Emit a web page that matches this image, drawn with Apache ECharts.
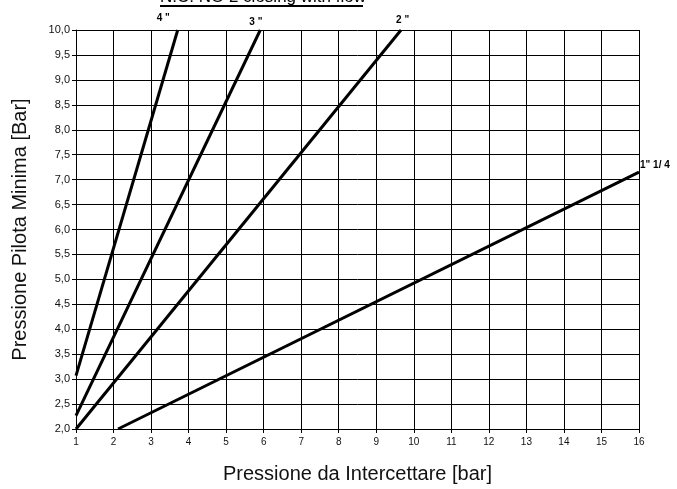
<!DOCTYPE html>
<html>
<head>
<meta charset="utf-8">
<script src="https://cdn.jsdelivr.net/npm/echarts@6/dist/echarts.min.js"></script>
<style>
  html, body { margin: 0; padding: 0; background: #fff; }
  #chart { width: 677px; height: 489px; }
</style>
</head>
<body>
<div id="chart"></div>
<script>
// diametri e punti delle rette
const sizes = ['4 "', '3 "', '2 "', '1" 1/ 4'];
const line4 = [[1, 3.07], [3.71, 10]];
const line3 = [[1, 2.27], [5.91, 10]];
const line2 = [[1, 2.0], [9.66, 10]];
const line114 = [[2.12, 2.0], [16, 7.15]];
const xTicks = [1, 16, 1];   // min, max, passo
const yTicks = [2, 10, 0.5];

const chart = echarts.init(document.getElementById('chart'));

const lbl = { show: true, color: '#000', fontSize: 10, fontWeight: 'bold', fontFamily: 'Liberation Sans, Arial' };
// etichette in fondo alle rette
const endLabels = [
  Object.assign({}, lbl, { formatter: sizes[0], offset: [-29, -12] }),
  Object.assign({}, lbl, { formatter: sizes[1], offset: [-19, -8] }),
  Object.assign({}, lbl, { formatter: sizes[2], offset: [-13, -10] }),
  Object.assign({}, lbl, { formatter: sizes[3], offset: [-7, -7] })
];

function lineSeries(points, i) {
  return {
    type: 'line',
    name: sizes[i],
    data: points,
    symbol: 'none',
    lineStyle: { color: '#000', width: 3 },
    endLabel: endLabels[i],
    silent: true,
    z: 5
  };
}

chart.setOption({
  animation: false,
  backgroundColor: '#fff',
  textStyle: { fontFamily: 'Liberation Sans, Arial' },
  grid: { left: 76, right: 38, top: 30, bottom: 59, containLabel: false },
  graphic: [
    {
      type: 'text', left: 160, top: -11,
      style: { text: 'N.C. NO 2 closing with flow', fontSize: 17, fill: '#000', fontFamily: 'Liberation Sans, Arial' }
    },
    { type: 'rect', shape: { x: 160, y: 5, width: 203, height: 2 }, style: { fill: '#000' } }
  ],
  xAxis: {
    type: 'value',
    min: xTicks[0], max: xTicks[1], interval: xTicks[2],
    name: 'Pressione da Intercettare [bar]',
    nameLocation: 'middle', nameGap: 35,
    nameTextStyle: { fontSize: 20, color: '#111' },
    axisLine: { lineStyle: { color: '#000', width: 1 } },
    axisTick: { show: true, length: 4, lineStyle: { color: '#000' } },
    axisLabel: { fontSize: 10, color: '#111', margin: 8 },
    splitLine: { show: true, lineStyle: { color: '#000', width: 1 } }
  },
  yAxis: {
    type: 'value',
    min: yTicks[0], max: yTicks[1], interval: yTicks[2],
    name: 'Pressione Pilota Minima [Bar]',
    nameLocation: 'middle', nameGap: 46,
    nameTextStyle: { fontSize: 20, color: '#111' },
    axisLine: { show: true, lineStyle: { color: '#000', width: 1 } },
    axisTick: { show: true, length: 4, lineStyle: { color: '#000' } },
    axisLabel: {
      fontSize: 11, color: '#111', margin: 6,
      formatter: function (v) { return v.toFixed(1).replace('.', ','); }
    },
    splitLine: { show: true, lineStyle: { color: '#000', width: 1 } }
  },
  series: [line4, line3, line2, line114].map(lineSeries)
});
</script>
</body>
</html>
